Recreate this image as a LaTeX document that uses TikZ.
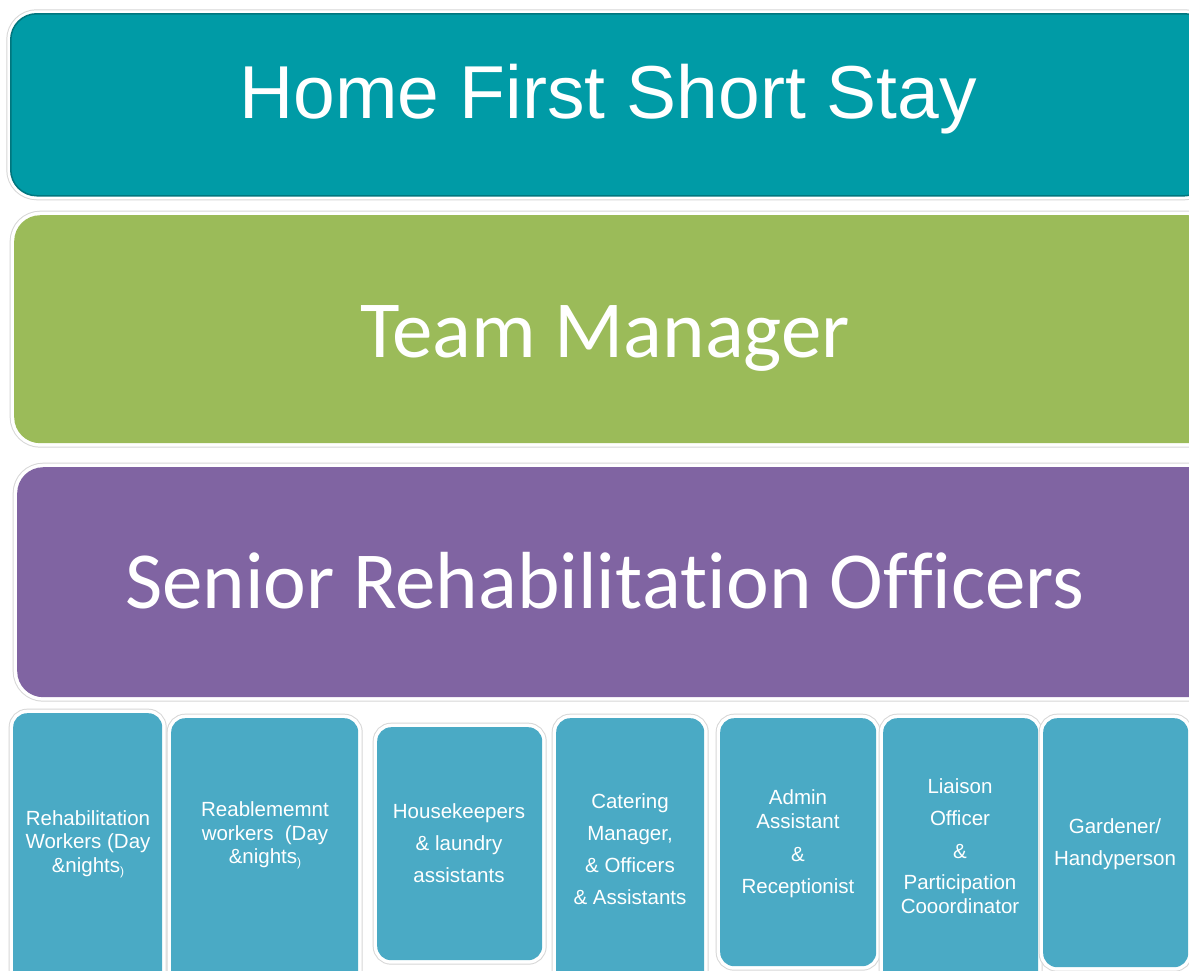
\documentclass[tikz,border=0pt]{standalone}
\usepackage{fontspec}
\newfontfamily\arialf{Liberation Sans}
\newfontfamily\calf[Ligatures={NoCommon,NoContextual}]{Carlito}
\definecolor{cteal}{RGB}{0,155,166}
\definecolor{ctealdk}{RGB}{0,118,126}
\definecolor{cgreen}{RGB}{155,187,89}
\definecolor{cpurple}{RGB}{128,100,162}
\definecolor{cblue}{RGB}{74,170,197}
\definecolor{chalo}{RGB}{215,215,215}
\tikzset{
  halo/.style={preaction={draw=chalo,line width=9pt},preaction={draw=white,line width=7pt}},
  bigbox/.style={halo,rounded corners=26pt,inner sep=0pt,anchor=north west},
  smallbox/.style={halo,rounded corners=14pt,fill=cblue,inner sep=0pt,anchor=north west},
  smalltxt/.style={text=white,align=center,font=\arialf\fontsize{20.5}{23.5}\selectfont,inner sep=0pt},
}
\newcommand{\smpar}{\raisebox{-0.15em}{\fontsize{12}{12}\selectfont)}}
\begin{document}
\begin{tikzpicture}[x=1pt,y=-1pt]
\useasboundingbox (0,0) rectangle (1189,970);
\clip (0,0) rectangle (1189,970);
\fill[white] (0,0) rectangle (1189,970);
% big boxes
\node[bigbox,fill=cteal,draw=ctealdk,line width=1.5pt,minimum width=1200pt,minimum height=182pt] (top) at (10,13) {};
\node[bigbox,fill=cgreen,minimum width=1200pt,minimum height=228pt] (mgr) at (14,215) {};
\node[bigbox,fill=cpurple,minimum width=1200pt,minimum height=230pt] (sro) at (17,467) {};
\node[text=white,font=\arialf\fontsize{75}{75}\selectfont,anchor=base,inner sep=0pt] (toptxt) at (608,118) {Home First Short Stay};
\node[text=white,font=\calf\fontsize{81}{81}\selectfont,anchor=base,inner sep=0pt] (mgrtxt) at (605,357) {Team Manager};
\node[text=white,font=\calf\fontsize{81}{81}\selectfont,anchor=base,inner sep=0pt] (srotxt) at (605,608) {Senior Rehabilit\kern0pt ation Of\kern0pt f\kern0pt icers};
% small boxes
\node[smallbox,minimum width=149pt,minimum height=280pt] (b1) at (13,713) {};
\node[smallbox,minimum width=187pt,minimum height=280pt] (b2) at (171,718) {};
\node[smallbox,minimum width=165pt,minimum height=233pt] (b3) at (377,727) {};
\node[smallbox,minimum width=148pt,minimum height=280pt] (b4) at (556,718) {};
\node[smallbox,minimum width=156pt,minimum height=248pt] (b5) at (720,718) {};
\node[smallbox,minimum width=155pt,minimum height=280pt] (b6) at (883,718) {};
\node[smallbox,minimum width=145pt,minimum height=249pt] (b7) at (1043,718) {};
% small texts
\node[smalltxt] (t1) at (88,844) {Rehabilitation\\Workers (Day\\\&nights\smpar};
\node[smalltxt] (t2) at (265,835.5) {Reablememnt\\workers \ (Day\\\&nights\smpar};
\node[smalltxt] (t3) at (459,843) {Housekeepers\\[8.5pt]\& laundry\\[8.5pt]assistants};
\node[smalltxt] (t4) at (630,849.5) {Catering\\[8.5pt]Manager,\\[8.5pt]\& Officers\\[8.5pt]\& Assistants};
\node[smalltxt] (t5) at (798,843.5) {Admin\\Assistant\\[9.5pt]\&\\[8.5pt]Receptionist};
\node[smalltxt] (t6) at (960,846) {Liaison\\[8.5pt]Officer\\[9.5pt]\&\\[7.5pt]Participation\\Cooordinator};
\node[smalltxt] (t7) at (1115,844) {Gardener/\\[8.5pt]Handyperson};
\end{tikzpicture}
\end{document}
